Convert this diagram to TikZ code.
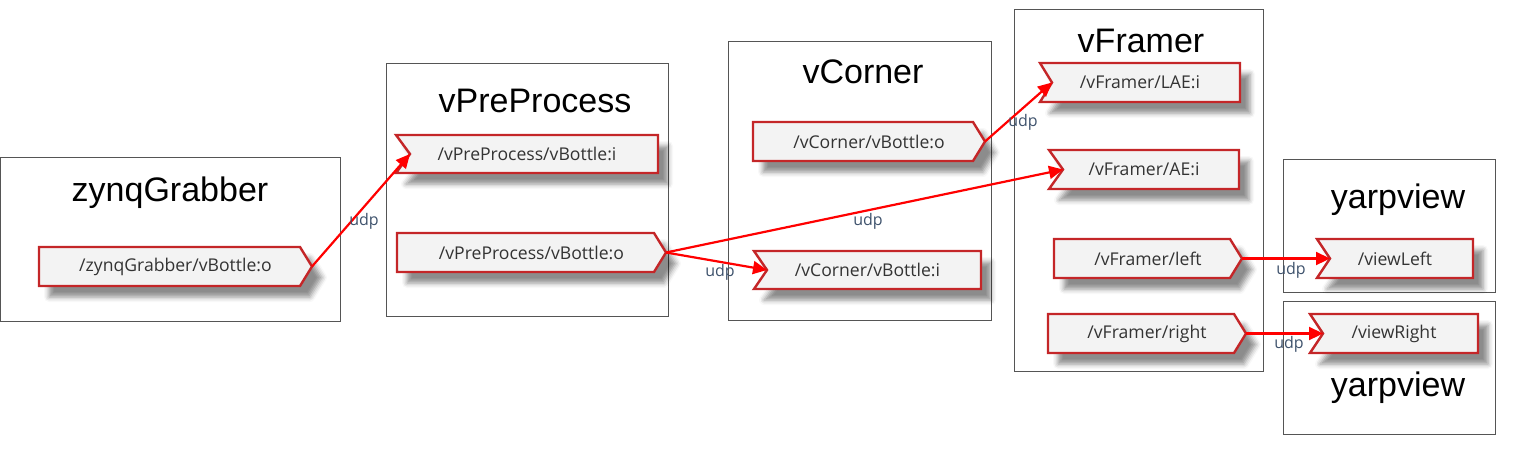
\documentclass[tikz,border=0pt]{standalone}
\usepackage{fontspec}
\setmainfont{Liberation Sans}
\newfontfamily\portfont{Open Sans}
\usetikzlibrary{shadows.blur,arrows.meta}
\definecolor{portred}{RGB}{196,38,40}
\definecolor{portfill}{RGB}{243,243,243}
\definecolor{udpblue}{RGB}{62,82,108}
\definecolor{framegray}{RGB}{85,85,85}
\tikzset{
  modbox/.style={draw=framegray, line width=1pt},
  modtitle/.style={font=\fontsize{34}{34}\selectfont, text=black, inner sep=0pt},
  portshape/.style={draw=portred, line width=2.4pt, fill=portfill, line join=miter,
    blur shadow={shadow xshift=10pt, shadow yshift=-11pt, shadow blur radius=5pt, shadow opacity=45}},
  porttext/.style={font=\portfont\fontsize{17.6}{17.6}\selectfont, text=black!80, inner sep=0pt},
  conn/.style={draw=red, line width=2.2pt, -{Triangle[length=14pt,width=13pt]}},
  udplabel/.style={font=\portfont\fontsize{16}{16}\selectfont, text=udpblue, inner sep=0pt},
}
\newcommand\outport[7]{%
  \path[portshape] (#2,#5) -- (#3,#5) -- (#3+#4,{(#5+#6)/2}) -- (#3,#6) -- (#2,#6) -- cycle;
  \node[porttext] (#1) at ({(#2+#3+#4)/2},{(#5+#6)/2}) {#7};
  \coordinate (#1-tip) at (#3+#4,{(#5+#6)/2});
}
\newcommand\inport[7]{%
  \path[portshape] (#2,#5) -- (#3,#5) -- (#3,#6) -- (#2,#6) -- (#2+#4,{(#5+#6)/2}) -- cycle;
  \node[porttext] (#1) at ({(#2+#3)/2},{(#5+#6)/2}) {#7};
  \coordinate (#1-notch) at (#2+#4,{(#5+#6)/2});
}
\begin{document}
\begin{tikzpicture}[x=1pt,y=-1pt]
\useasboundingbox (0,0) rectangle (1520,453);
% module boxes
\draw[modbox] (0.5,157) rectangle (340,321);
\draw[modbox] (386,63) rectangle (668,316);
\draw[modbox] (728,41) rectangle (991,320);
\draw[modbox] (1014,9) rectangle (1263,371);
\draw[modbox] (1283,159) rectangle (1495,292);
\draw[modbox] (1283,301) rectangle (1495,434);
% titles
\node[modtitle] (tzg) at (170,193) {zynqGrabber};
\node[modtitle] (tvpp) at (535,101) {vPreProcess};
\node[modtitle] (tvc) at (863,72) {vCorner};
\node[modtitle] (tvf) at (1141,41) {vFramer};
\node[modtitle] (tyv1) at (1398,200) {yarpview};
\node[modtitle] (tyv2) at (1398,388) {yarpview};
% ports
\outport{zgo}{39}{300}{12}{247}{286}{/zynqGrabber/vBottle:o}
\inport{vppi}{396}{658}{14}{135}{173}{/vPreProcess/vBottle:i}
\outport{vppo}{397}{654}{12}{233}{272}{/vPreProcess/vBottle:o}
\outport{vco}{753}{973}{12}{122}{161}{/vCorner/vBottle:o}
\inport{vci}{754}{981}{13}{251}{289}{/vCorner/vBottle:i}
\inport{lae}{1040}{1240}{12}{63}{102}{/vFramer/LAE:i}
\inport{ae}{1049}{1239}{14}{150}{189}{/vFramer/AE:i}
\outport{vfl}{1054}{1230}{12}{239}{278}{/vFramer/left}
\outport{vfr}{1048}{1234}{12}{314}{353}{/vFramer/right}
\inport{vl}{1317}{1473}{13}{239}{278}{/viewLeft}
\inport{vr}{1310}{1478}{13}{314}{353}{/viewRight}
% connectors
\draw[conn] (zgo-tip) -- (vppi-notch);
\draw[conn] (vppo-tip) -- (vci-notch);
\draw[conn] (vppo-tip) -- (ae-notch);
\draw[conn] (vco-tip) -- (lae-notch);
\draw[conn] (vfl-tip) -- (vl-notch);
\draw[conn] (vfr-tip) -- (vr-notch);
% labels
\node[udplabel] (u1) at (364,221) {udp};
\node[udplabel] (u2) at (720,272) {udp};
\node[udplabel] (u3) at (868,221) {udp};
\node[udplabel] (u4) at (1023,122) {udp};
\node[udplabel] (u5) at (1291,270) {udp};
\node[udplabel] (u6) at (1289,344) {udp};
\end{tikzpicture}
\end{document}
